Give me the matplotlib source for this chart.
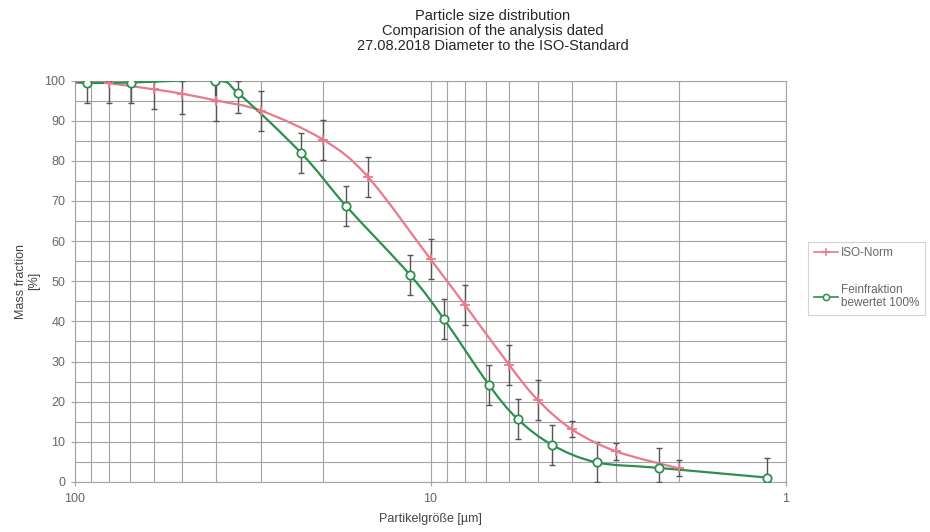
import numpy as np
import matplotlib
matplotlib.use('Agg')
import matplotlib.pyplot as plt
from matplotlib.path import Path
from matplotlib.patches import PathPatch
from matplotlib.lines import Line2D
from matplotlib.ticker import FixedLocator, FixedFormatter, NullFormatter

plt.rcParams['font.family'] = ['Liberation Sans', 'DejaVu Sans']

# ---------------- data ----------------
title_lines = ["Particle size distribution",
               "Comparision of the analysis dated",
               "27.08.2018 Diameter to the ISO-Standard"]
x_label = "Partikelgröße [µm]"
y_label = "Mass fraction\n[%]"
series_names = ["ISO-Norm", "Feinfraktion\nbewertet 100%"]

x_major_ticks = [100, 10, 1]
x_major_labels = ["100", "10", "1"]
x_minor_ticks = [90, 80, 70, 60, 50, 40, 30, 20, 9, 8, 7, 6, 5, 4, 3, 2]
y_ticks = [0, 10, 20, 30, 40, 50, 60, 70, 80, 90, 100]
y_grid = [5, 15, 25, 35, 45, 55, 65, 75, 85, 95]

iso_size = [100, 80, 60, 50, 40, 30, 20, 15, 10, 8, 6, 5, 4, 3, 2]
iso_value = [100, 99.3, 97.8, 96.7, 95.0, 92.5, 85.2, 76.0, 55.5, 44.1, 29.1, 20.5, 13.1, 7.6, 3.4]
iso_err = [0, 5, 5, 5, 5, 5, 5, 5, 5, 5, 5, 5, 2, 2, 2]

fein_size = [110, 92.5, 69.5, 40.3, 34.7, 23.1, 17.3, 11.4, 9.17, 6.85, 5.69, 4.54, 3.41, 2.27, 1.13]
fein_value = [99.8, 99.4, 99.5, 100, 96.8, 81.9, 68.8, 51.5, 40.6, 24.2, 15.7, 9.2, 4.9, 3.5, 1.1]
fein_err = [5, 5, 5, 5, 5, 5, 5, 5, 5, 5, 5, 5, 5, 5, 5]

# ---------------- style ----------------
ISO_COLOR = '#e87a8e'
FEIN_COLOR = '#2f8f4e'
ERR_COLOR = '#555555'
GRID_COLOR = '#a3a3a3'
TEXT_COLOR = '#666666'


def smooth_path(xs, ys):
    """Excel-like smoothed line: cardinal (Catmull-Rom) spline drawn as
    cubic Bezier segments, control points built in log10(x) space."""
    lx = np.log10(np.asarray(xs, float))
    y = np.asarray(ys, float)
    n = len(lx)
    verts = [(10 ** lx[0], y[0])]
    codes = [Path.MOVETO]
    for i in range(n - 1):
        p0 = (lx[i - 1], y[i - 1]) if i > 0 else (lx[i], y[i])
        p1 = (lx[i], y[i])
        p2 = (lx[i + 1], y[i + 1])
        p3 = (lx[i + 2], y[i + 2]) if i + 2 < n else (lx[i + 1], y[i + 1])
        c1 = (p1[0] + (p2[0] - p0[0]) / 6.0, p1[1] + (p2[1] - p0[1]) / 6.0)
        c2 = (p2[0] - (p3[0] - p1[0]) / 6.0, p2[1] - (p3[1] - p1[1]) / 6.0)
        for c in (c1, c2, p2):
            verts.append((10 ** c[0], c[1]))
            codes.append(Path.CURVE4)
    return Path(verts, codes)


W, H = 930, 532
fig = plt.figure(figsize=(W / 100, H / 100), dpi=100)
ax = fig.add_axes([75 / W, 1 - 482 / H, (786 - 75) / W, (482 - 80.5) / H])

ax.set_xscale('log')
ax.set_xlim(100, 1)
ax.set_ylim(0, 100)

# grid
for xv in x_minor_ticks + x_major_ticks:
    ax.axvline(xv, color=GRID_COLOR, lw=0.8, zorder=0)
for yv in y_ticks + y_grid:
    ax.axhline(yv, color=GRID_COLOR, lw=0.8, zorder=0)

ax.xaxis.set_major_locator(FixedLocator(x_major_ticks))
ax.xaxis.set_major_formatter(FixedFormatter(x_major_labels))
ax.xaxis.set_minor_locator(FixedLocator(x_minor_ticks))
ax.xaxis.set_minor_formatter(NullFormatter())
ax.set_yticks(y_ticks)
ax.tick_params(axis='both', which='major', length=3, width=0.8, color=GRID_COLOR,
               labelcolor=TEXT_COLOR, labelsize=9, pad=4)
ax.tick_params(axis='x', which='minor', length=0)
ax.tick_params(axis='x', which='major', pad=5)
for s in ax.spines.values():
    s.set_color(GRID_COLOR)
    s.set_linewidth(0.8)

# error bars (clipped to 0..100 like the original)
def clipped_err(vals, errs):
    v = np.asarray(vals, float)
    e = np.asarray(errs, float)
    lo = v - np.clip(v - e, 0, 100)
    hi = np.clip(v + e, 0, 100) - v
    return np.vstack([lo, hi])

ax.errorbar(iso_size, iso_value, yerr=clipped_err(iso_value, iso_err), fmt='none',
            ecolor=ERR_COLOR, elinewidth=1.0, capsize=2.5, capthick=1.0, zorder=3)
ax.errorbar(fein_size, fein_value, yerr=clipped_err(fein_value, fein_err), fmt='none',
            ecolor=ERR_COLOR, elinewidth=1.0, capsize=2.5, capthick=1.0, zorder=3)

# smoothed lines
ax.add_patch(PathPatch(smooth_path(iso_size, iso_value), fill=False,
                       edgecolor=ISO_COLOR, lw=1.6, zorder=4))
ax.add_patch(PathPatch(smooth_path(fein_size, fein_value), fill=False,
                       edgecolor=FEIN_COLOR, lw=1.6, zorder=5))

# markers
ax.plot(iso_size, iso_value, linestyle='none', marker='+', ms=7, mew=1.3,
        color=ISO_COLOR, zorder=6)
ax.plot(fein_size, fein_value, linestyle='none', marker='o', ms=6, mew=1.3,
        mfc='white', mec=FEIN_COLOR, zorder=7)

# labels
ax.set_xlabel(x_label, fontsize=9, color='#444444', labelpad=6)
ax.set_ylabel(y_label, fontsize=9, color='#444444', labelpad=3, linespacing=1.15)

fig.text(493 / W, 1 - 8.5 / H, "\n".join(title_lines), ha='center', va='top',
         fontsize=10.5, color='#262626', linespacing=1.12)

# legend
handles = [Line2D([], [], color=ISO_COLOR, lw=1.2, marker='+', ms=6, mew=1.1),
           Line2D([], [], color=FEIN_COLOR, lw=1.2, marker='o', ms=4.5, mew=1.1, mfc='white')]
leg = fig.legend(handles, series_names, loc='upper left',
                 bbox_to_anchor=(808 / W, 1 - 241.5 / H), frameon=True, fancybox=False,
                 edgecolor='#c8c8c8', fontsize=8.5, labelspacing=2.1,
                 handlelength=2.0, handletextpad=0.3, borderpad=0.5, borderaxespad=0)
leg.get_frame().set_linewidth(0.8)
for t in leg.get_texts():
    t.set_color(TEXT_COLOR)
    t.set_linespacing(1.05)

fig.savefig('out.png', dpi=100)
